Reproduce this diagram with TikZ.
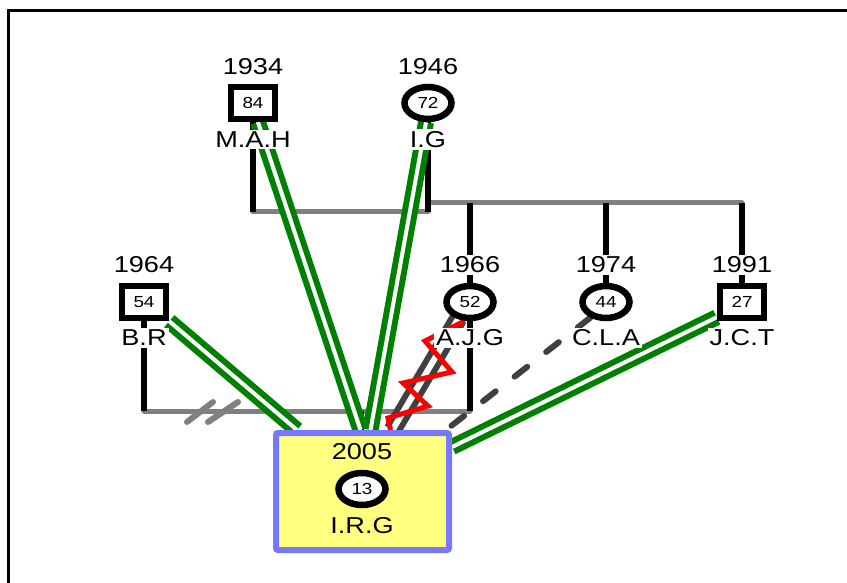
\documentclass[tikz,border=0pt]{standalone}
\usepackage{fontspec}
\setmainfont{Liberation Sans}[FakeStretch=1.18]
\usepackage{tikz}
\usetikzlibrary{shapes.geometric,backgrounds}
\definecolor{closegreen}{RGB}{0,128,0}
\definecolor{marriagegray}{RGB}{128,128,128}
\definecolor{relgray}{RGB}{64,64,64}
\definecolor{boxblue}{RGB}{120,120,255}
\definecolor{boxyellow}{RGB}{255,255,128}
\tikzset{
  male/.style={rectangle,draw=black,line width=6.5pt,fill=white,minimum width=44pt,
    minimum height=32pt,inner sep=0pt,font=\fontsize{16}{17}\selectfont},
  female/.style={ellipse,draw=black,line width=6.5pt,fill=white,minimum width=47pt,
    minimum height=32pt,inner sep=0pt,font=\fontsize{16}{17}\selectfont},
  infolabel/.style={font=\fontsize{23}{26}\selectfont,fill=white,inner sep=2pt},
  boxlabel/.style={font=\fontsize{23}{26}\selectfont,inner sep=2pt},
  stem/.style={line width=6pt,black},
  marriage/.style={line width=5pt,marriagegray,line cap=round},
  closearc/.style={closegreen,line width=6pt,double=white,double distance=4pt},
  hostilearc/.style={relgray,line width=6pt,double=white,double distance=6pt},
  zigzagarc/.style={red,line width=5pt,line join=miter},
  distantarc/.style={relgray,line width=6pt,line cap=round,dash pattern=on 16pt off 24pt},
  focusbox/.style={rectangle,draw=boxblue,fill=boxyellow,line width=6pt,rounded corners=2pt,
    minimum width=173pt,minimum height=117pt}
}
\begin{document}
\begin{tikzpicture}[x=1pt,y=-1pt]
  \useasboundingbox (0,0) rectangle (847,583);
  \draw[line width=3pt] (8,583) -- (8,11) -- (847,11);

  \node[male] (mah) at (253,103) {84};
  \node[female] (ig) at (428,103) {72};
  \node[male] (br) at (144,302) {54};
  \node[female] (ajg) at (470,302) {52};
  \node[female] (cla) at (606,302) {44};
  \node[male] (jct) at (742,302) {27};
  \node[focusbox] (irg) at (362.5,491.5) {};

  \node[infolabel] (mahyear) at (253,66.5) {1934};
  \node[infolabel] (mahname) at (253,139.5) {M.A.H};
  \node[infolabel] (igyear) at (428,66.5) {1946};
  \node[infolabel] (igname) at (428,139.5) {I.G};
  \node[infolabel] (bryear) at (144,265) {1964};
  \node[infolabel] (brname) at (144,338) {B.R};
  \node[infolabel] (ajgyear) at (470,265) {1966};
  \node[infolabel] (ajgname) at (470,338) {A.J.G};
  \node[infolabel] (clayear) at (606,265) {1974};
  \node[infolabel] (claname) at (606,338) {C.L.A};
  \node[infolabel] (jctyear) at (742,265) {1991};
  \node[infolabel] (jctname) at (742,338) {J.C.T};

  \node[female] (irgsym) at (362,489) {13};
  \node[boxlabel] (irgyear) at (362,452) {2005};
  \node[boxlabel] (irgname) at (362,526) {I.R.G};

  \begin{scope}[on background layer]
    \coordinate (topbar) at (0,212);
    \coordinate (sibbar) at (0,203);
    \coordinate (lowbar) at (0,411);
    \coordinate (irgtop) at ([xshift=-2pt]irg.north);

    \draw[marriage] (ig.south |- sibbar) -- (jct.north |- sibbar);
    \draw[marriage] (mah.south |- topbar) -- (ig.south |- topbar);
    \draw[stem] (mah.south) -- (mah.south |- topbar);
    \draw[stem] (ig.south) -- (ig.south |- topbar);
    \foreach \kid in {ajg,cla,jct}
      \draw[stem] (\kid.north |- sibbar) -- (\kid.north);

    \draw[marriage] (br.south |- lowbar) -- (ajg.south |- lowbar);
    \draw[stem] (br.south) -- (br.south |- lowbar);
    \draw[stem] (ajg.south) -- (ajg.south |- lowbar);
    \draw[stem] (irgtop |- lowbar) -- (irgtop);
    \draw[marriage,line width=6pt] (187,422) -- (213,402) (208,422) -- (238,402);

    \draw[closearc] (br.south east) -- ([xshift=24pt]irg.north west);
    \draw[closearc] ([xshift=5pt]mah.south) -- ([xshift=-2pt]irg.north);
    \draw[closearc] ([xshift=-2pt]ig.south) -- ([xshift=8pt]irg.north);
    \draw[closearc] ([yshift=4pt]jct.south west) -- ([yshift=-17pt]irg.north east);
    \draw[hostilearc] (ajg.235) -- ([xshift=30pt]irg.north);
    \draw[zigzagarc] (ajg.255) -- (425,341) -- (452,372) -- (403,383) -- (428,406)
      -- (388,418) -- ([xshift=28pt]irg.north);
    \draw[distantarc] (cla.225) -- ([xshift=-6pt]irg.north east);
  \end{scope}
\end{tikzpicture}
\end{document}
